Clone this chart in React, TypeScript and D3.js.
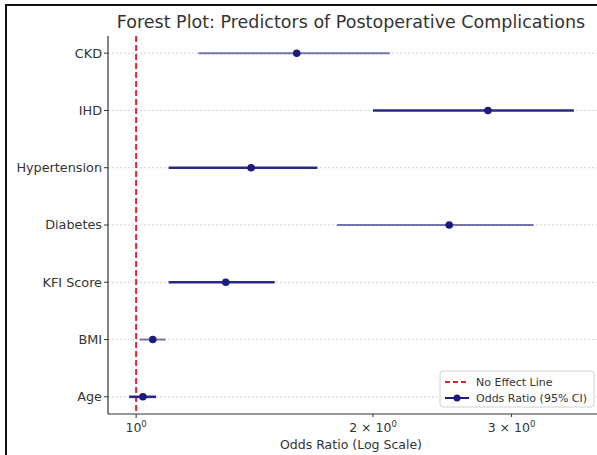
import { useEffect, useRef } from 'react';
import * as d3 from 'd3';

// categories from top to bottom
const predictors = ["CKD", "IHD", "Hypertension", "Diabetes", "KFI Score", "BMI", "Age"];
const oddsRatio = [1.6, 2.8, 1.4, 2.5, 1.3, 1.05, 1.02];
const ciLower = [1.2, 2.0, 1.1, 1.8, 1.1, 1.01, 0.98];
const ciUpper = [2.1, 3.6, 1.7, 3.2, 1.5, 1.09, 1.06];
const xTicks = [1, 2, 3];
const xTickMantissa = ["", "2 \u00d7 ", "3 \u00d7 "];

// CI lines drawn heavy or light per row
const heavy = [false, true, true, false, true, false, true];

const W = 597;
const H = 455;
const FONT = "'DejaVu Sans', sans-serif";
const NAVY = "#1c1c7e";

const App = () => {
  const svgRef = useRef<SVGSVGElement>(null);
  const margin = { top: 36, right: 2, bottom: 41, left: 108 };

  useEffect(() => {
    if (!svgRef.current) return;
    const svg = d3.select(svgRef.current);
    svg.selectAll("*").remove();

    // outer frame (image is cropped at right/bottom)
    svg.append("rect")
      .attr("x", 6).attr("y", 5)
      .attr("width", 700).attr("height", 600)
      .attr("fill", "white")
      .attr("stroke", "#111")
      .attr("stroke-width", 2);

    const x = d3.scaleLog()
      .domain([0.921, 3.83])
      .range([margin.left, W - margin.right]);

    const y = d3.scaleLinear()
      .domain([6.3, -0.3])
      .range([H - margin.bottom, margin.top]);

    const rows = predictors.map((p, i) => ({
      name: p, or: oddsRatio[i], lo: ciLower[i], hi: ciUpper[i], heavy: heavy[i], i
    }));

    // grid
    svg.append("g").selectAll("line")
      .data(rows)
      .enter().append("line")
      .attr("x1", margin.left).attr("x2", W)
      .attr("y1", d => y(d.i)).attr("y2", d => y(d.i))
      .attr("stroke", "#c8c8c8")
      .attr("stroke-width", 0.8)
      .attr("stroke-dasharray", "2,2");

    // no-effect line
    svg.append("line")
      .attr("x1", x(1)).attr("x2", x(1))
      .attr("y1", margin.top).attr("y2", H - margin.bottom)
      .attr("stroke", "#f0202a")
      .attr("stroke-width", 2)
      .attr("stroke-dasharray", "6,3");

    // CI lines
    svg.append("g").selectAll("line")
      .data(rows)
      .enter().append("line")
      .attr("x1", d => x(d.lo)).attr("x2", d => x(d.hi))
      .attr("y1", d => y(d.i)).attr("y2", d => y(d.i))
      .attr("stroke", NAVY)
      .attr("stroke-opacity", d => d.heavy ? 0.95 : 0.6)
      .attr("stroke-width", d => d.heavy ? 2.6 : 2);

    // points
    svg.append("g").selectAll("circle")
      .data(rows)
      .enter().append("circle")
      .attr("cx", d => x(d.or))
      .attr("cy", d => y(d.i))
      .attr("r", 3.8)
      .attr("fill", NAVY);

    // spines
    svg.append("line")
      .attr("x1", margin.left).attr("x2", margin.left)
      .attr("y1", margin.top).attr("y2", H - margin.bottom)
      .attr("stroke", "#333").attr("stroke-width", 1.2);
    svg.append("line")
      .attr("x1", margin.left).attr("x2", W)
      .attr("y1", H - margin.bottom).attr("y2", H - margin.bottom)
      .attr("stroke", "#333").attr("stroke-width", 1.2);

    // y ticks
    const yt = svg.append("g");
    rows.forEach(d => {
      yt.append("line")
        .attr("x1", margin.left - 4).attr("x2", margin.left)
        .attr("y1", y(d.i)).attr("y2", y(d.i))
        .attr("stroke", "#333");
      yt.append("text")
        .attr("x", margin.left - 6)
        .attr("y", y(d.i))
        .attr("dy", "0.35em")
        .attr("text-anchor", "end")
        .style("font-family", FONT)
        .style("font-size", "12.8px")
        .attr("fill", "#333")
        .text(d.name);
    });

    // x ticks
    const xt = svg.append("g");
    xTicks.forEach((t, i) => {
      xt.append("line")
        .attr("x1", x(t)).attr("x2", x(t))
        .attr("y1", H - margin.bottom).attr("y2", H - margin.bottom + (i === 0 ? 4 : 3))
        .attr("stroke", "#333");
      const txt = xt.append("text")
        .attr("x", x(t))
        .attr("y", H - margin.bottom + 18)
        .attr("text-anchor", "middle")
        .style("font-family", FONT)
        .style("font-size", "12.5px")
        .attr("fill", "#333");
      txt.append("tspan").text(xTickMantissa[i] + "10");
      txt.append("tspan")
        .attr("dy", -5)
        .style("font-size", "8.5px")
        .text("0");
    });

    // axis label
    svg.append("text")
      .attr("x", 351)
      .attr("y", H - 6)
      .attr("text-anchor", "middle")
      .style("font-family", FONT)
      .style("font-size", "12.5px")
      .attr("fill", "#333")
      .text("Odds Ratio (Log Scale)");

    // title
    svg.append("text")
      .attr("x", 351)
      .attr("y", 28)
      .attr("text-anchor", "middle")
      .style("font-family", FONT)
      .style("font-size", "17.5px")
      .attr("fill", "#333")
      .text("Forest Plot: Predictors of Postoperative Complications");

    // legend
    const lg = svg.append("g").attr("transform", "translate(440,371)");
    lg.append("rect")
      .attr("width", 154).attr("height", 36)
      .attr("rx", 3)
      .attr("fill", "white").attr("fill-opacity", 0.85)
      .attr("stroke", "#d0d0d0");
    lg.append("line")
      .attr("x1", 5).attr("x2", 29).attr("y1", 11).attr("y2", 11)
      .attr("stroke", "#f0202a").attr("stroke-width", 2)
      .attr("stroke-dasharray", "5,3");
    lg.append("line")
      .attr("x1", 5).attr("x2", 29).attr("y1", 27).attr("y2", 27)
      .attr("stroke", NAVY).attr("stroke-width", 2);
    lg.append("circle")
      .attr("cx", 17).attr("cy", 27).attr("r", 3.5)
      .attr("fill", NAVY);
    const legendLabels = ["No Effect Line", "Odds Ratio (95% CI)"];
    legendLabels.forEach((t, i) => {
      lg.append("text")
        .attr("x", 36).attr("y", 11 + i * 16)
        .attr("dy", "0.35em")
        .style("font-family", FONT)
        .style("font-size", "11px")
        .attr("fill", "#333")
        .text(t);
    });
  }, []);

  return (
    <svg
      ref={svgRef}
      width={W}
      height={H}
      style={{ position: "absolute", left: 0, top: 0, background: "white" }}
    />
  );
};

export default App;
